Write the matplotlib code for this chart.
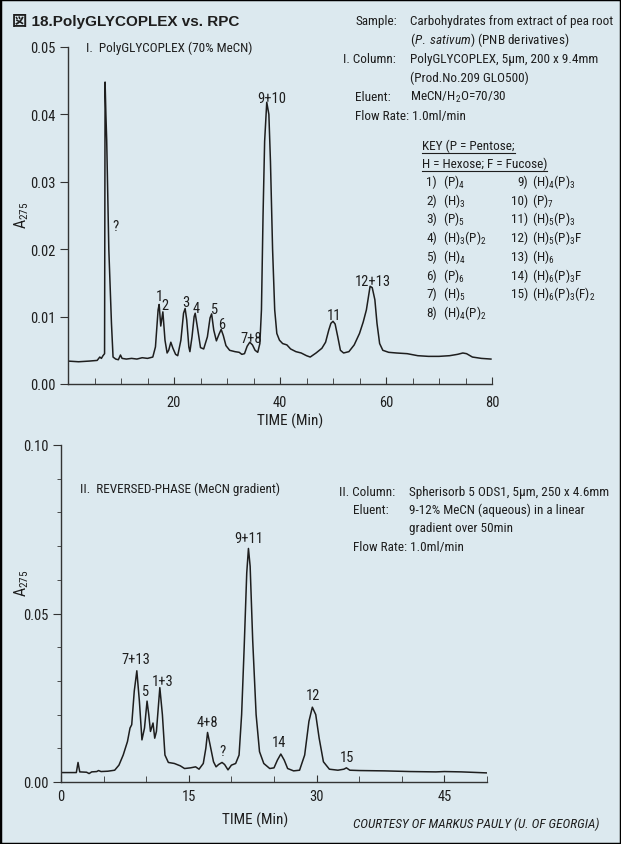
import matplotlib
matplotlib.use('Agg')
import matplotlib.pyplot as plt
from matplotlib import font_manager
from matplotlib.lines import Line2D
from matplotlib.patches import Rectangle
from matplotlib.ticker import MultipleLocator, FormatStrFormatter


def pick_font():
    # the original uses a condensed grotesque; take a narrow face if one is installed
    fonts = font_manager.fontManager.ttflist
    names = {f.name for f in fonts}
    for n in ['Liberation Sans Narrow', 'Roboto Condensed', 'Open Sans Condensed',
              'Noto Sans Condensed', 'Arial Narrow']:
        if n in names:
            return n, 'normal'
    for fam in ['Noto Sans', 'Roboto', 'Open Sans', 'Inter']:
        for f in fonts:
            if f.name == fam and f.stretch in ('condensed', 'semi-condensed') \
                    and f.style == 'normal':
                return fam, f.stretch
    return 'Liberation Sans', 'normal'


FONT, STRETCH = pick_font()
plt.rcParams['font.family'] = [FONT, 'Noto Sans CJK JP']
plt.rcParams['font.stretch'] = STRETCH
plt.rcParams['mathtext.fontset'] = 'custom'
plt.rcParams['mathtext.rm'] = f'{FONT}:stretch={STRETCH}'
plt.rcParams['mathtext.it'] = f'{FONT}:italic:stretch={STRETCH}'
plt.rcParams['mathtext.default'] = 'rm'

BG = '#dce9ef'
INK = '#1e1e1e'

# ---- data: panel I, PolyGLYCOPLEX (time in min, absorbance) ----
top_time = [0.0, 2.0, 4.0, 5.5, 6.0, 6.3, 6.6, 6.9, 7.0, 7.15, 7.3, 7.7, 8.2, 8.5, 9.0,
            9.5, 9.9, 10.2, 11.0, 12.0, 13.0, 14.0, 15.0, 16.0, 16.5, 17.0, 17.2, 17.5,
            17.9, 18.3, 18.7, 19.0, 19.4, 19.8, 20.3, 20.7, 21.3, 21.8, 22.1, 22.4, 22.8,
            23.0, 23.4, 23.8, 24.0, 24.4, 25.0, 25.6, 26.3, 26.8, 27.1, 27.5, 28.0, 28.5,
            28.9, 29.3, 29.8, 30.5, 31.5, 32.3, 32.8, 33.3, 33.8, 34.3, 34.8, 35.3, 35.8,
            36.2, 36.5, 36.8, 37.1, 37.5, 37.9, 38.2, 38.6, 39.0, 39.4, 39.9, 40.5, 41.3,
            42.0, 43.0, 44.0, 45.0, 45.7, 46.8, 47.9, 48.6, 49.2, 49.6, 50.0, 50.4, 50.9,
            51.4, 52.0, 53.0, 54.0, 55.0, 55.7, 56.3, 57.0, 57.4, 57.9, 58.3, 58.8, 59.4,
            60.5, 62.0, 64.0, 66.0, 68.0, 70.0, 72.0, 73.5, 74.5, 75.2, 76.3, 78.0, 79.8]
top_abs = [0.0034, 0.0033, 0.0034, 0.0035, 0.0040, 0.0038, 0.0042, 0.0045, 0.0448, 0.0400,
           0.0362, 0.0200, 0.0090, 0.0040, 0.0037,
           0.0036, 0.0043, 0.0038, 0.0037, 0.0038, 0.0037, 0.0039, 0.0038, 0.0040, 0.0055,
           0.0110, 0.0118, 0.0086,
           0.0107, 0.0065, 0.0046, 0.0050, 0.0062, 0.0053, 0.0044, 0.0042, 0.0065, 0.0105,
           0.0112, 0.0095, 0.0055,
           0.0048, 0.0070, 0.0100, 0.0105, 0.0085, 0.0054, 0.0052, 0.0070, 0.0098, 0.0104,
           0.0080, 0.0064, 0.0074,
           0.0081, 0.0072, 0.0057, 0.0050, 0.0048, 0.0047, 0.0044, 0.0045, 0.0056, 0.0062,
           0.0058, 0.0050, 0.0047,
           0.0060, 0.0110, 0.0250, 0.0360, 0.0418, 0.0400, 0.0330, 0.0200, 0.0110, 0.0075,
           0.0065, 0.0060, 0.0058,
           0.0052, 0.0048, 0.0046, 0.0042, 0.0040, 0.0046, 0.0053, 0.0062, 0.0080, 0.0090,
           0.0093, 0.0089, 0.0070,
           0.0050, 0.0046, 0.0048, 0.0058, 0.0075, 0.0092, 0.0110, 0.0145, 0.0143, 0.0125,
           0.0090, 0.0060, 0.0050,
           0.0047, 0.0046, 0.0045, 0.0042, 0.0041, 0.0041, 0.0042, 0.0044, 0.0046, 0.0045,
           0.0040, 0.0038, 0.0037]

top_peaks = ['?', '1', '2', '3', '4', '5', '6', '7+8', '9+10', '11', '12+13']
top_peak_t = [7.7, 17.2, 17.9, 22.1, 24.0, 27.1, 28.9, 34.3, 37.5, 50.0, 57.0]
top_peak_a = [0.0200, 0.0118, 0.0107, 0.0112, 0.0105, 0.0104, 0.0081, 0.0062, 0.0418,
              0.0093, 0.0145]

# ---- data: panel II, reversed phase ----
bot_time = [0.0, 1.8, 2.0, 2.2, 3.0, 3.3, 3.6, 4.2, 4.4, 4.7, 5.5, 6.3, 6.8, 7.3, 7.8, 8.1,
            8.3, 8.6, 8.9, 9.2, 9.5, 9.8, 10.1, 10.3, 10.5, 10.8, 11.0, 11.2, 11.6, 11.9,
            12.2, 12.6, 13.3, 14.0, 14.5, 15.2, 15.8, 16.2, 16.7, 17.0, 17.2, 17.5, 17.9,
            18.2, 18.5, 18.9, 19.2, 19.6, 20.0, 20.5, 20.9, 21.2, 21.5, 21.8, 22.0, 22.2,
            22.5, 22.9, 23.3, 23.8, 24.5, 25.0, 25.4, 25.8, 26.2, 26.6, 27.3, 28.0, 28.6,
            29.1, 29.5, 29.9, 30.3, 30.8, 31.5, 32.5, 33.2, 33.5, 33.9, 35.0, 38.0, 41.0,
            44.0, 45.0, 47.0, 50.0]
bot_abs = [0.0028, 0.0028, 0.0058, 0.0030, 0.0029, 0.0025, 0.0030, 0.0031, 0.0034, 0.0031,
           0.0032, 0.0035, 0.0050, 0.0080, 0.0120, 0.0160,
           0.0170, 0.0270, 0.0330, 0.0240, 0.0125, 0.0160, 0.0240, 0.0200, 0.0150, 0.0175,
           0.0130, 0.0150, 0.0280, 0.0200,
           0.0080, 0.0058, 0.0055, 0.0048, 0.0040, 0.0042, 0.0045, 0.0038, 0.0055, 0.0100,
           0.0147, 0.0110, 0.0060,
           0.0045, 0.0052, 0.0058, 0.0052, 0.0036, 0.0050, 0.0055, 0.0080, 0.0200, 0.0400,
           0.0620, 0.0693, 0.0640,
           0.0420, 0.0200, 0.0090, 0.0055, 0.0040, 0.0042, 0.0065, 0.0083, 0.0065, 0.0040,
           0.0033, 0.0035, 0.0080,
           0.0180, 0.0222, 0.0200, 0.0130, 0.0060, 0.0038, 0.0035, 0.0038, 0.0042, 0.0035,
           0.0034, 0.0033, 0.0031,
           0.0030, 0.0031, 0.0030, 0.0027]

bot_peaks = ['7+13', '5', '1+3', '4+8', '?', '9+11', '14', '12', '15']
bot_peak_t = [8.9, 10.1, 11.6, 17.2, 18.9, 22.0, 25.8, 29.5, 33.5]
bot_peak_a = [0.0330, 0.0240, 0.0280, 0.0147, 0.0058, 0.0693, 0.0083, 0.0222, 0.0042]

key_left = [('1)', '(P)$_4$'), ('2)', '(H)$_3$'), ('3)', '(P)$_5$'),
            ('4)', '(H)$_3$(P)$_2$'), ('5)', '(H)$_4$'), ('6)', '(P)$_6$'),
            ('7)', '(H)$_5$'), ('8)', '(H)$_4$(P)$_2$')]
key_right = [('9)', '(H)$_4$(P)$_3$'), ('10)', '(P)$_7$'), ('11)', '(H)$_5$(P)$_3$'),
             ('12)', '(H)$_5$(P)$_3$F'), ('13)', '(H)$_6$'), ('14)', '(H)$_6$(P)$_3$F'),
             ('15)', '(H)$_6$(P)$_3$(F)$_2$')]

W, H = 621, 845
fig = plt.figure(figsize=(W / 100, H / 100), dpi=100, facecolor=BG)

# scale the type so a known line has the width it has in the original (202 px)
probe = fig.text(0, 0, 'Carbohydrates from extract of pea root', fontsize=10)
fig.canvas.draw()
K = min(1.05, 202 / probe.get_window_extent().width)
probe.remove()
TXT = 10 * K
SMALL = 11 * K


def ftext(x, y, s, size=None, **kw):
    # place text by pixel position (x, vertical centre y) of the picture
    size = TXT if size is None else size
    return fig.text(x / W, 1 - (y + 0.38 * size * 100 / 72) / H, s, fontsize=size,
                    va='baseline', color=INK, **kw)


def style_axes(ax):
    ax.set_facecolor('none')
    for side in ('top', 'right'):
        ax.spines[side].set_visible(False)
    for side in ('left', 'bottom'):
        ax.spines[side].set_color('#333333')
        ax.spines[side].set_linewidth(1.0)
    ax.yaxis.set_major_formatter(FormatStrFormatter('%.2f'))
    ax.tick_params(axis='x', which='both', direction='in', colors='#333333',
                   labelcolor=INK, labelsize=SMALL)
    ax.tick_params(axis='x', which='major', length=5)
    ax.tick_params(axis='x', which='minor', length=4)
    ax.tick_params(axis='y', which='both', direction='out', colors='#333333',
                   labelcolor=INK, labelsize=SMALL, pad=3)
    ax.tick_params(axis='y', which='major', length=6)
    ax.tick_params(axis='y', which='minor', length=3)


def label_peaks(ax, names, ts, As, offsets):
    for name, t, a, (dx, dy) in zip(names, ts, As, offsets):
        ax.annotate(name, xy=(t, a), xytext=(dx, dy), textcoords='offset pixels',
                    ha='center', va='center', fontsize=SMALL, color=INK)


# ---------- panel I ----------
ax1 = fig.add_axes([68 / W, 1 - 385 / H, 424 / W, 337 / H])
style_axes(ax1)
ax1.plot(top_time, top_abs, color=INK, lw=1.1)
ax1.set_xlim(0, 80)
ax1.set_ylim(0, 0.05)
ax1.set_xticks([20, 40, 60, 80])
ax1.xaxis.set_minor_locator(MultipleLocator(5))
ax1.set_yticks([0, 0.01, 0.02, 0.03, 0.04, 0.05])
ax1.tick_params(axis='x', pad=8)
label_peaks(ax1, top_peaks, top_peak_t, top_peak_a,
            [(7, 23), (0, 8), (2, 7), (1, 7), (1, 5), (1.5, 5), (1, 5), (1, 4),
             (5, 4), (1, 6), (3, 5)])

# ---------- panel II ----------
ax2 = fig.add_axes([61 / W, 1 - 783 / H, 426 / W, 337 / H])
style_axes(ax2)
ax2.plot(bot_time, bot_abs, color=INK, lw=1.1)
ax2.set_xlim(0, 50)
ax2.set_ylim(0, 0.10)
ax2.set_xticks([0, 15, 30, 45])
ax2.xaxis.set_minor_locator(MultipleLocator(5))
ax2.set_yticks([0, 0.05, 0.10])
ax2.yaxis.set_minor_locator(MultipleLocator(0.01))
ax2.tick_params(axis='x', pad=5)
label_peaks(ax2, bot_peaks, bot_peak_t, bot_peak_a,
            [(-1, 12), (-2, 10), (3, 7), (0, 10), (0, 11), (0, 10), (-2, 12),
             (1, 12), (1, 11)])

# ---------- texts ----------
ftext(12, 20, '図 18.PolyGLYCOPLEX vs. RPC', size=11, fontweight='bold',
      family=['Liberation Sans', 'Noto Sans CJK JP'], stretch='normal')
ftext(86, 47, 'I.  PolyGLYCOPLEX (70% MeCN)')
ftext(80, 488, 'II.  REVERSED-PHASE (MeCN gradient)')

for ycen in (215, 583):
    fig.text(22 / W, 1 - ycen / H, 'A$_{275}$', rotation=90, ha='center', va='center',
             fontsize=12 * K, color=INK)
ftext(290, 420, 'TIME (Min)', size=11.5 * K, ha='center')
ftext(255, 819, 'TIME (Min)', size=11.5 * K, ha='center')

# conditions, panel I
ftext(355, 20, 'Sample:')
ftext(410, 20, 'Carbohydrates from extract of pea root')
ftext(410, 39, r'($\mathit{P.\ sativum}$) (PNB derivatives)')
ftext(343, 58, 'I. Column:')
ftext(410, 58, 'PolyGLYCOPLEX, 5µm, 200 x 9.4mm')
ftext(410, 77, '(Prod.No.209 GLO500)')
ftext(355, 96, 'Eluent:')
ftext(410, 96, 'MeCN/H$_2$O=70/30')
ftext(355, 115, 'Flow Rate: 1.0ml/min')

# key
k1 = ftext(422, 145, 'KEY (P = Pentose;')
k2 = ftext(422, 163, 'H = Hexose; F = Fucose)')
for i, (num, comp) in enumerate(key_left):
    ftext(437, 181 + i * 18.7, num, ha='right')
    ftext(443, 181 + i * 18.7, comp)
for i, (num, comp) in enumerate(key_right):
    ftext(528, 181 + i * 18.7, num, ha='right')
    ftext(532, 181 + i * 18.7, comp)

# conditions, panel II
ftext(339, 491, 'II. Column:')
ftext(409, 491, 'Spherisorb 5 ODS1, 5µm, 250 x 4.6mm')
ftext(353, 509, 'Eluent:')
ftext(409, 509, '9-12% MeCN (aqueous) in a linear')
ftext(409, 527, 'gradient over 50min')
ftext(353, 546, 'Flow Rate: 1.0ml/min')
ftext(353, 823, 'COURTESY OF MARKUS PAULY (U. OF GEORGIA)', style='italic')

# underline the key header
fig.canvas.draw()
renderer = fig.canvas.get_renderer()
for t in (k1, k2):
    bb = t.get_window_extent(renderer).transformed(fig.transFigure.inverted())
    fig.add_artist(Line2D([bb.x0, bb.x1], [bb.y0 - 1 / H, bb.y0 - 1 / H],
                          color=INK, lw=0.8, transform=fig.transFigure))

fig.add_artist(Rectangle((0, 0), 1, 1, transform=fig.transFigure, fill=False,
                         edgecolor='black', lw=2.5))

fig.savefig('out.png', dpi=100, facecolor=BG)
